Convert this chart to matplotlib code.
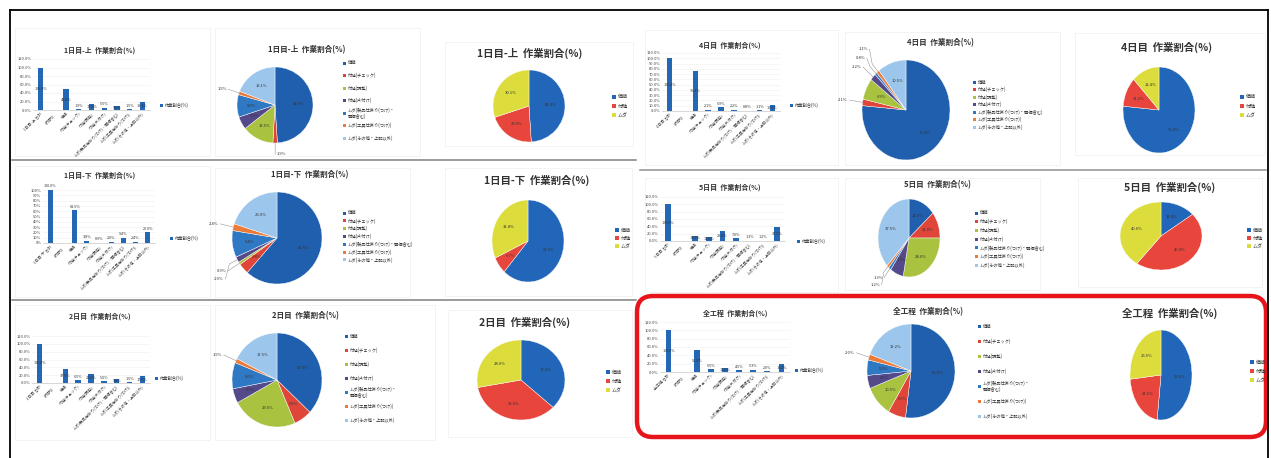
"""
作業割合の集計シート（日別・全工程）.

各行に 棒グラフ（合計と内訳）、7区分の円グラフ、3区分の円グラフを並べる。
"""

import numpy as np
import matplotlib.pyplot as plt
from matplotlib.patches import Rectangle, FancyBboxPatch

plt.rcParams['font.family'] = ['Noto Sans CJK JP', 'DejaVu Sans']

W, H = 1271, 458

# ---- data ----
TITLES = ["1日目-上", "1日目-下", "2日目", "4日目", "5日目", "全工程"]
DETAIL_LABELS = [
    "価値",
    "付随(チェック)",
    "付随(調整)",
    "付随(片付け)",
    "ムダ(製品仕掛り(つけ)・開梱含む)",
    "ムダ(工具仕掛り(つけ))",
    "ムダ(その他・上記以外)",
]
SUMMARY_LABELS = ["価値", "付随", "ムダ"]
BAR_LABELS_TAIL = ["【内訳】"] + DETAIL_LABELS
BAR_LEGEND = "作業割合(%)"
TOTAL = 100.0

# 作業割合(%) 7区分
DAY1_AM = [49.0, 1.9, 13.5, 5.5, 9.5, 1.5, 19.1]
DAY1_PM = [61.5, 3.8, 0.9, 2.0, 9.4, 2.4, 20.0]
DAY2 = [37.0, 6.5, 23.5, 5.0, 9.0, 1.5, 17.5]
DAY4 = [76.4, 2.1, 6.9, 2.2, 0.8, 1.1, 10.5]
DAY5 = [14.0, 11.0, 28.0, 7.0, 1.3, 1.2, 37.5]
ALL_DAYS = [52.0, 6.5, 10.5, 4.5, 5.3, 2.0, 19.2]

# 作業割合(%) 3区分
DAY1_AM_SUM = [49.0, 20.9, 30.1]
DAY1_PM_SUM = [61.5, 6.7, 31.8]
DAY2_SUM = [37.0, 35.0, 28.0]
DAY4_SUM = [76.4, 11.2, 12.4]
DAY5_SUM = [14.0, 46.0, 40.0]
ALL_DAYS_SUM = [52.0, 21.5, 26.5]

DETAILS = [DAY1_AM, DAY1_PM, DAY2, DAY4, DAY5, ALL_DAYS]
SUMMARIES = [DAY1_AM_SUM, DAY1_PM_SUM, DAY2_SUM, DAY4_SUM, DAY5_SUM, ALL_DAYS_SUM]

# ---- colours ----
BAR_BLUE = "#2367b5"
DETAIL_COLORS = ["#1f5fae", "#e0453a", "#a9c23f", "#544a8a", "#2f78c4", "#ec7b3a", "#9cc6ec"]
SUMMARY_COLORS = ["#2166b8", "#e8463d", "#dcdc3c"]
TEXT = "#333333"

# ---- layout (pixel positions on the sheet) ----
LAYOUT = [
    dict(bar=dict(box=(33, 59, 150, 110), ymax=120, step=20, fmt="{:.1f}%", top=False,
                  title=(100, 50), legend=(160, 105)),
         pie7=dict(c=(275, 105), r=(38, 38), title=(307, 50), legend=(343, 63), gap=12.5, wrap=True),
         pie3=dict(c=(529, 106), r=(36, 36), title=(530, 53), legend=(612, 97), gap=9),
         frames=[(15, 28, 210, 156), (215, 28, 420, 156), (445, 42, 633, 146)]),
    dict(bar=dict(box=(43, 190, 155, 243), ymax=100, step=10, fmt="{:.0f}%", top=True,
                  title=(100, 175), legend=(170, 238)),
         pie7=dict(c=(277, 238), r=(45, 46), title=(310, 175), legend=(343, 213), gap=7.8, wrap=False),
         pie3=dict(c=(528, 241), r=(36, 41), title=(537, 180), legend=(615, 230), gap=8),
         frames=[(15, 166, 210, 297), (215, 168, 410, 297), (445, 168, 632, 296)]),
    dict(bar=dict(box=(32, 336, 150, 383), ymax=120, step=20, fmt="{:.1f}%", top=False,
                  title=(100, 316), legend=(155, 378)),
         pie7=dict(c=(277, 380), r=(45, 47), title=(305, 316), legend=(345, 336), gap=14, wrap=True),
         pie3=dict(c=(521, 380), r=(44, 40), title=(525, 322), legend=(606, 372), gap=9),
         frames=[(15, 305, 210, 440), (215, 305, 435, 440), (448, 310, 632, 437)]),
    dict(bar=dict(box=(662, 53, 780, 111), ymax=110, step=10, fmt="{:.1f}%", top=False,
                  title=(730, 45), legend=(790, 105)),
         pie7=dict(c=(906, 110), r=(44, 50), title=(940, 43), legend=(973, 82), gap=7.5, wrap=False),
         pie3=dict(c=(1159, 110), r=(36, 43), title=(1167, 47), legend=(1240, 97), gap=9),
         frames=[(645, 30, 838, 165), (845, 32, 1060, 165), (1075, 33, 1265, 155)]),
    dict(bar=dict(box=(660, 197, 785, 241), ymax=120, step=20, fmt="{:.1f}%", top=False,
                  title=(730, 187), legend=(797, 241)),
         pie7=dict(c=(909, 238), r=(31, 39), title=(937, 185), legend=(975, 213), gap=8.7, wrap=False),
         pie3=dict(c=(1161, 236), r=(41, 34), title=(1170, 187), legend=(1247, 230), gap=8),
         frames=[(645, 178, 838, 292), (845, 178, 1040, 290), (1078, 178, 1262, 287)]),
    dict(bar=dict(box=(660, 322, 790, 372), ymax=120, step=20, fmt="{:.1f}%", top=False,
                  title=(735, 313), legend=(795, 370)),
         pie7=dict(c=(911, 371), r=(44, 47), title=(928, 312), legend=(978, 326), gap=15, wrap=True),
         pie3=dict(c=(1161, 375), r=(31, 45), title=(1170, 313), legend=(1250, 362), gap=9),
         frames=[]),
]


def px_axes(fig, x0, y0, x1, y1):
    """Axes placed by pixel box (y measured from the top)."""
    return fig.add_axes([x0 / W, 1 - y1 / H, (x1 - x0) / W, (y1 - y0) / H])


def draw_legend(base, x, y, labels, colors, gap, size, fs):
    for i, (lab, col) in enumerate(zip(labels, colors)):
        yy = y + i * gap
        base.add_patch(Rectangle((x, yy - size / 2), size, size, color=col, lw=0))
        base.text(x + size + 2, yy, lab, fontsize=fs, ha='left', va='center',
                  color=TEXT, linespacing=1.1)


def draw_bar(fig, base, title, values, lay):
    x0, y0, x1, y1 = lay['box']
    ax = px_axes(fig, x0, y0, x1, y1)
    heights = [TOTAL, np.nan] + list(values)
    labels = [f"{title} 合計"] + BAR_LABELS_TAIL
    pos = np.arange(len(heights))
    ymax = lay['ymax']

    ax.bar(pos, heights, width=0.42, color=BAR_BLUE, zorder=2)
    ax.set_ylim(0, ymax)
    ax.set_xlim(-0.6, len(heights) - 0.4)
    ticks = np.arange(0, ymax + 0.1, lay['step'])
    ax.set_yticks(ticks)
    ax.set_yticklabels([lay['fmt'].format(t) for t in ticks])
    ax.set_xticks(pos)
    ax.set_xticklabels(labels, rotation=45, ha='right', rotation_mode='anchor')
    ax.tick_params(labelsize=2.9, length=0, pad=1.2, colors='#444444')
    for side in ('top', 'right', 'left'):
        ax.spines[side].set_visible(False)
    ax.spines['bottom'].set_color('#c8c8c8')
    ax.spines['bottom'].set_linewidth(0.5)
    ax.yaxis.grid(True, color='#f0f0f0', lw=0.4)
    ax.set_axisbelow(True)
    ax.patch.set_alpha(0)

    for p, h in zip(pos, heights):
        if np.isnan(h):
            continue
        if lay['top'] or h < 8:
            ax.text(p, h + ymax * 0.03, f"{h:.1f}%", fontsize=2.7, ha='center',
                    va='bottom', color=TEXT, clip_on=False, zorder=3)
        else:
            ax.text(p, h / 2, f"{h:.1f}%", fontsize=2.7, ha='center',
                    va='center', color=TEXT, zorder=3)

    tx, ty = lay['title']
    base.text(tx, ty, f"{title}  作業割合(%)", fontsize=5, fontweight='bold',
              ha='center', va='center', color=TEXT)
    lx, ly = lay['legend']
    draw_legend(base, lx, ly, [BAR_LEGEND], [BAR_BLUE], 0, 3, 3.1)


def draw_pie(fig, base, title, values, labels, colors, lay, title_fs, legend_fs, box):
    cx, cy = lay['c']
    rx, ry = lay['r']
    ax = px_axes(fig, cx - rx, cy - ry, cx + rx, cy + ry)
    wedges, _ = ax.pie(values, colors=colors, startangle=90, counterclock=False,
                       wedgeprops=dict(edgecolor='white', linewidth=0.3))

    placed = []
    for w, v in zip(wedges, values):
        mid = np.deg2rad((w.theta1 + w.theta2) / 2)
        c, s = np.cos(mid), np.sin(mid)
        txt = f"{v:.1f}%"
        if v >= 3.5:
            ax.text(0.62 * c, 0.62 * s, txt, fontsize=3, ha='center', va='center', color=TEXT)
            continue
        lx, ly = 1.3 * c, 1.3 * s
        for qx, qy in placed:
            if abs(ly - qy) < 0.17 and abs(lx - qx) < 0.6:
                ly = qy + (0.18 if s >= 0 else -0.18)
        placed.append((lx, ly))
        ax.plot([c, 1.2 * c, lx], [s, 1.2 * s, ly], color='#777777', lw=0.3, clip_on=False)
        ax.text(lx + (-0.04 if c < 0 else 0.04), ly, txt, fontsize=3,
                ha='right' if c < 0 else 'left', va='center', color=TEXT)

    ax.set_aspect('auto')
    ax.set_xlim(-1, 1)
    ax.set_ylim(-1, 1)
    ax.axis('off')

    tx, ty = lay['title']
    base.text(tx, ty, f"{title}  作業割合(%)", fontsize=title_fs, fontweight='bold',
              ha='center', va='center', color=TEXT)
    if lay.get('wrap'):
        labels = [lab.replace("・", "・\n") if len(lab) > 14 else lab for lab in labels]
    lx, ly = lay['legend']
    draw_legend(base, lx, ly, labels, colors, lay['gap'], box, legend_fs)


fig = plt.figure(figsize=(W / 100, H / 100), dpi=100)
fig.patch.set_facecolor('white')

base = fig.add_axes([0, 0, 1, 1])
base.set_xlim(0, W)
base.set_ylim(H, 0)
base.axis('off')

# sheet border and row separators
base.plot([10, 1268], [10, 10], color='black', lw=1.3)
base.plot([10, 10], [10, 458], color='black', lw=1.3)
base.plot([1268, 1268], [10, 458], color='black', lw=1.3)
base.plot([12, 636], [160, 160], color='#808080', lw=1.1)
base.plot([12, 636], [300, 300], color='#808080', lw=1.1)
base.plot([640, 1266], [170, 170], color='#909090', lw=1.1)

for row, title in enumerate(TITLES):
    lay = LAYOUT[row]
    for (fx0, fy0, fx1, fy1) in lay['frames']:
        base.add_patch(Rectangle((fx0, fy0), fx1 - fx0, fy1 - fy0, fill=False,
                                 edgecolor='#eeeeee', lw=0.5))
    draw_bar(fig, base, title, DETAILS[row], lay['bar'])
    draw_pie(fig, base, title, DETAILS[row], DETAIL_LABELS, DETAIL_COLORS,
             lay['pie7'], 5.5, 3.1, 3)
    draw_pie(fig, base, title, SUMMARIES[row], SUMMARY_LABELS, SUMMARY_COLORS,
             lay['pie3'], 7.5, 3.6, 3.5)

# 全工程 highlight
base.add_patch(FancyBboxPatch((637, 296), 629, 141,
                              boxstyle="round,pad=0,rounding_size=16",
                              fill=False, edgecolor='#e8141c', lw=3.2))

fig.savefig('out.png', dpi=100, facecolor='white')
